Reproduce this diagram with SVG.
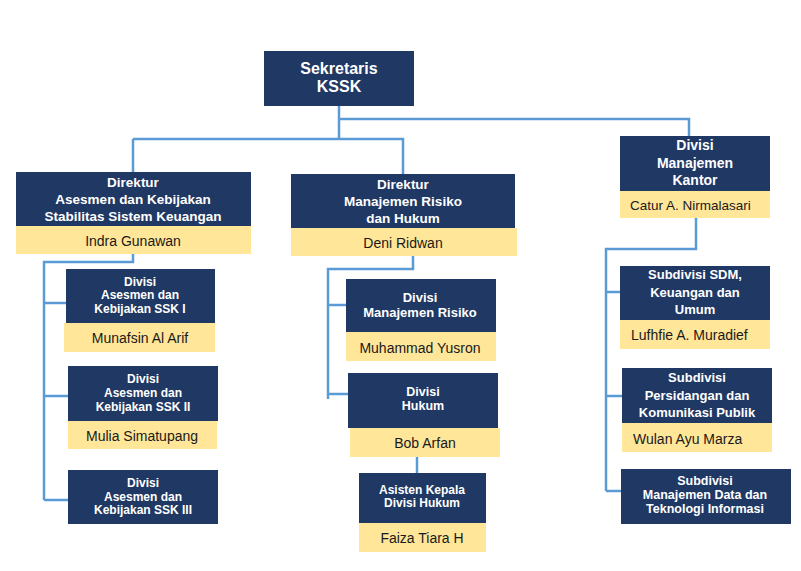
<svg xmlns="http://www.w3.org/2000/svg" width="801" height="571" viewBox="0 0 801 571">
<style>
.box{fill:#203864}
.nm{fill:#FFE699}
.t{fill:#ffffff;font-family:"Liberation Sans",Arial,sans-serif;font-weight:bold;font-size:12px;text-anchor:middle}
.tl{font-size:16px}
.td{font-size:13.5px}
.tm{font-size:13px}
.ts{font-size:12.5px}
.tk{font-size:14px}
.n{fill:#1a1a1a;font-family:"Liberation Sans",Arial,sans-serif;font-size:14px;text-anchor:middle}
.nl{text-anchor:start}
.ln{fill:none;stroke:#5B9BD5;stroke-width:2.5}
</style>
<rect width="801" height="571" fill="#ffffff"/>
<g id="connectors">
<path class="ln" d="M339,106 V139 M339,119 H689 V136 M133,139 H403 V174 M133,139 V172"/>
<path class="ln" d="M133,254 V262 H44 V500 M44,303 H66 M44,396 H68 M44,500 H68"/>
<path class="ln" d="M413,256 V269 H328 V399 M328,305 H346 M328,394 H348"/>
<path class="ln" d="M417,457 V473"/>
<path class="ln" d="M696,218 V249 H606 V491 M606,292 H620 M606,396 H622 M606,491 H621"/>
</g>
<g id="sekretaris">
<rect class="box" x="264" y="51" width="150" height="55"/>
<text class="t tl" x="339" y="74">Sekretaris</text>
<text class="t tl" x="339" y="92">KSSK</text>
</g>
<g id="direktur-asesmen">
<rect class="box" x="16" y="172" width="235" height="54"/>
<rect class="nm" x="16" y="226" width="235" height="28"/>
<text class="t td" x="133" y="187">Direktur</text>
<text class="t td" x="133" y="204">Asesmen dan Kebijakan</text>
<text class="t td" x="133" y="221">Stabilitas Sistem Keuangan</text>
<text class="n" x="133" y="246">Indra Gunawan</text>
</g>
<g id="direktur-risiko">
<rect class="box" x="291" y="174" width="224" height="54"/>
<rect class="nm" x="291" y="228" width="226" height="28"/>
<text class="t td" x="403" y="189">Direktur</text>
<text class="t td" x="403" y="206">Manajemen Risiko</text>
<text class="t td" x="403" y="223">dan Hukum</text>
<text class="n" x="403" y="248">Deni Ridwan</text>
</g>
<g id="divisi-kantor">
<rect class="box" x="620" y="136" width="150" height="55"/>
<rect class="nm" x="620" y="191" width="150" height="27"/>
<text class="t tk" x="695" y="150">Divisi</text>
<text class="t tk" x="695" y="168">Manajemen</text>
<text class="t tk" x="695" y="185">Kantor</text>
<text class="n nl" x="630" y="210" style="font-size:13.5px">Catur A. Nirmalasari</text>
</g>
<g id="ssk1">
<rect class="box" x="66" y="269" width="149" height="54"/>
<rect class="nm" x="64" y="323" width="151" height="29"/>
<text class="t" x="140" y="286">Divisi</text>
<text class="t" x="140" y="299">Asesmen dan</text>
<text class="t" x="140" y="313">Kebijakan SSK I</text>
<text class="n" x="140" y="343">Munafsin Al Arif</text>
</g>
<g id="ssk2">
<rect class="box" x="68" y="366" width="150" height="55"/>
<rect class="nm" x="68" y="421" width="149" height="28"/>
<text class="t" x="143" y="383">Divisi</text>
<text class="t" x="143" y="397">Asesmen dan</text>
<text class="t" x="143" y="411">Kebijakan SSK II</text>
<text class="n" x="142" y="441">Mulia Simatupang</text>
</g>
<g id="ssk3">
<rect class="box" x="68" y="470" width="150" height="54"/>
<text class="t" x="143" y="487">Divisi</text>
<text class="t" x="143" y="501">Asesmen dan</text>
<text class="t" x="143" y="514">Kebijakan SSK III</text>
</g>
<g id="manajemen-risiko">
<rect class="box" x="346" y="279" width="150" height="53"/>
<rect class="nm" x="346" y="332" width="150" height="29"/>
<text class="t tm" x="420" y="302">Divisi</text>
<text class="t tm" x="420" y="317">Manajemen Risiko</text>
<text class="n" x="420" y="353">Muhammad Yusron</text>
</g>
<g id="hukum">
<rect class="box" x="348" y="373" width="150" height="55"/>
<rect class="nm" x="350" y="428" width="150" height="29"/>
<text class="t ts" x="423" y="396">Divisi</text>
<text class="t ts" x="423" y="410">Hukum</text>
<text class="n" x="425" y="448">Bob Arfan</text>
</g>
<g id="asisten">
<rect class="box" x="359" y="473" width="127" height="50"/>
<rect class="nm" x="359" y="523" width="127" height="29"/>
<text class="t" x="422" y="494">Asisten Kepala</text>
<text class="t" x="422" y="507">Divisi Hukum</text>
<text class="n" x="422" y="543">Faiza Tiara H</text>
</g>
<g id="subdivisi-sdm">
<rect class="box" x="620" y="266" width="150" height="54"/>
<rect class="nm" x="620" y="320" width="150" height="29"/>
<text class="t tm" x="695" y="279">Subdivisi SDM,</text>
<text class="t tm" x="695" y="297">Keuangan dan</text>
<text class="t tm" x="695" y="314">Umum</text>
<text class="n nl" x="631" y="340">Lufhfie A. Muradief</text>
</g>
<g id="subdivisi-persidangan">
<rect class="box" x="622" y="368" width="150" height="55"/>
<rect class="nm" x="622" y="423" width="150" height="29"/>
<text class="t tm" x="697" y="382">Subdivisi</text>
<text class="t tm" x="697" y="400">Persidangan dan</text>
<text class="t tm" x="697" y="417">Komunikasi Publik</text>
<text class="n nl" x="633" y="444">Wulan Ayu Marza</text>
</g>
<g id="subdivisi-data">
<rect class="box" x="621" y="469" width="170" height="55"/>
<text class="t ts" x="705" y="485">Subdivisi</text>
<text class="t ts" x="705" y="499">Manajemen Data dan</text>
<text class="t ts" x="705" y="513">Teknologi Informasi</text>
</g>
</svg>
